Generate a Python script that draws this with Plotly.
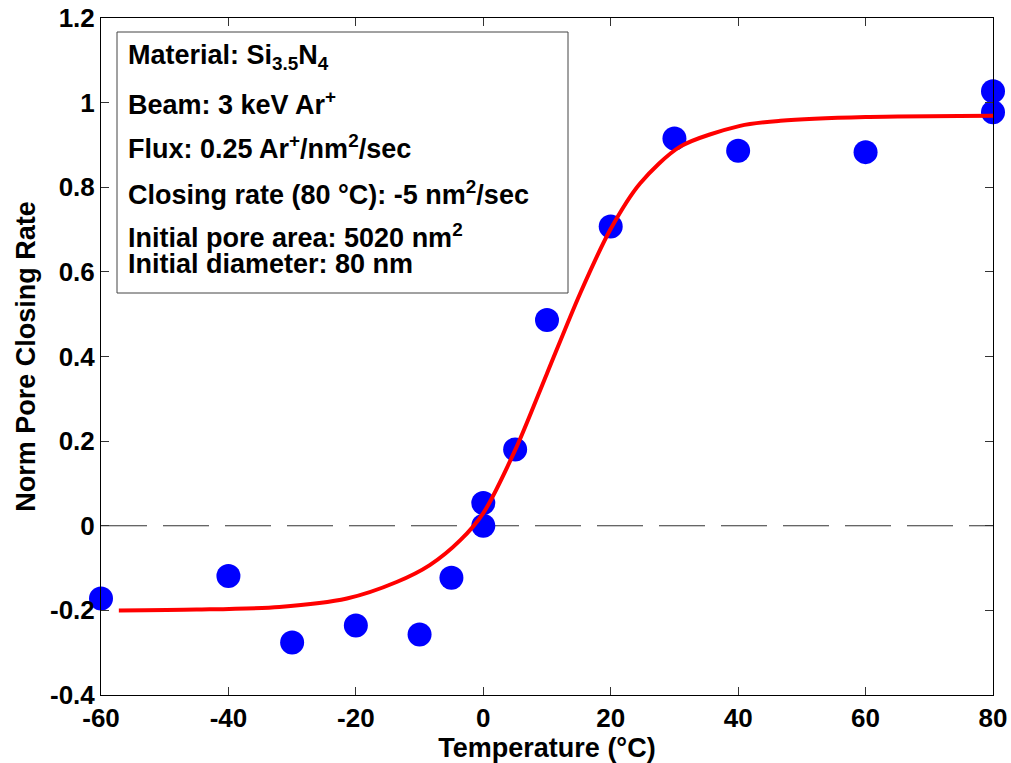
import plotly.graph_objects as go

# ---- data ----
temp_pts = [-60, -40, -30, -20, -10, -5, 0, 0, 5, 10, 20, 30, 40, 60, 80, 80]
rate_pts = [-0.172, -0.119, -0.276, -0.236, -0.257, -0.123, 0.054, 0.0, 0.180,
            0.486, 0.707, 0.915, 0.886, 0.883, 1.027, 0.977]

fit_x = [-57.2, -45, -32, -21.4, -13.6, -8.4, -3.6, 0, 5.25, 10, 15.2, 19.9,
         24.6, 30.9, 40.3, 46.6, 60, 80]
fit_y = [-0.200, -0.198, -0.192, -0.172, -0.133, -0.093, -0.034, 0.03, 0.187,
         0.360, 0.549, 0.699, 0.809, 0.896, 0.945, 0.957, 0.966, 0.969]

zero_x = [-60, 80]
zero_y = [0, 0]

x_ticks = [-60, -40, -20, 0, 20, 40, 60, 80]
x_ticklabels = ["-60", "-40", "-20", "0", "20", "40", "60", "80"]
y_ticks = [-0.4, -0.2, 0, 0.2, 0.4, 0.6, 0.8, 1.0, 1.2]
y_ticklabels = ["-0.4", "-0.2", "0", "0.2", "0.4", "0.6", "0.8", "1", "1.2"]

info_lines = [
    "Material: Si<sub>3.5</sub>N<sub>4</sub>",
    "Beam: 3 keV Ar<sup>+</sup>",
    "Flux: 0.25 Ar<sup>+</sup>/nm<sup>2</sup>/sec",
    "Closing rate (80 °C): -5 nm<sup>2</sup>/sec",
    "Initial pore area: 5020 nm<sup>2</sup>",
    "Initial diameter: 80 nm",
]

# ---- layout geometry (pixels) ----
W, H = 1011, 763
L, R, T, B = 101, 18, 18, 68
PW, PH = W - L - R, H - T - B


def px(x):
    return (x - L) / PW


def py(y):
    return (H - B - y) / PH


FONT = "Liberation Sans, Arial, Helvetica, sans-serif"

fig = go.Figure()

fig.add_trace(go.Scatter(
    x=zero_x, y=zero_y, mode="lines",
    line=dict(color="#333333", width=1, dash="46px,16px"),
    hoverinfo="skip", showlegend=False))

fig.add_trace(go.Scatter(
    x=temp_pts, y=rate_pts, mode="markers",
    marker=dict(color="#0000FF", size=24, line=dict(width=0)),
    cliponaxis=False, showlegend=False))

fig.add_trace(go.Scatter(
    x=fit_x, y=fit_y, mode="lines",
    line=dict(color="#FF0000", width=4, shape="spline", smoothing=0.8),
    cliponaxis=False, showlegend=False))

# info box
fig.add_shape(type="rect", xref="paper", yref="paper",
              x0=px(117), x1=px(568), y0=py(293), y1=py(32),
              line=dict(color="#444444", width=1), fillcolor="white",
              layer="below")

centers = [57, 103, 147, 193, 236, 264]
for txt, cy in zip(info_lines, centers):
    fig.add_annotation(text=txt, xref="paper", yref="paper",
                       x=px(126), y=py(cy), xanchor="left", yanchor="middle",
                       showarrow=False,
                       font=dict(family=FONT, size=27, color="black",
                                 weight="bold"))

axis_common = dict(
    showline=True, linecolor="black", linewidth=1, mirror="allticks",
    ticks="inside", ticklen=8, tickcolor="#333333", tickwidth=1,
    showgrid=False, zeroline=False, automargin=False,
    tickfont=dict(family=FONT, size=26, color="black", weight="bold"),
)

fig.update_xaxes(range=[-60, 80], tickvals=x_ticks, ticktext=x_ticklabels,
                 title=dict(text="Temperature (°C)", standoff=2,
                            font=dict(family=FONT, size=27, color="black",
                                      weight="bold")),
                 **axis_common)
fig.update_yaxes(range=[-0.4, 1.2], tickvals=y_ticks, ticktext=y_ticklabels,
                 title=dict(text="Norm Pore Closing Rate", standoff=6,
                            font=dict(family=FONT, size=27, color="black",
                                      weight="bold")),
                 **axis_common)

fig.update_layout(
    width=W, height=H, autosize=False,
    margin=dict(l=L, r=R, t=T, b=B, pad=0),
    plot_bgcolor="white", paper_bgcolor="white",
    showlegend=False,
)

fig.write_html("out.html")
